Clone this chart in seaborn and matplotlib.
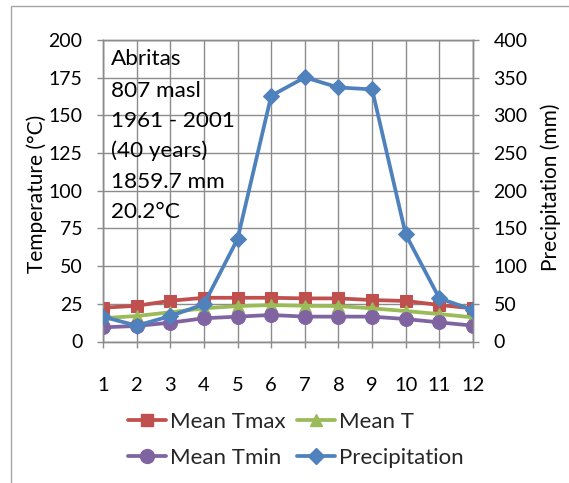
import matplotlib
matplotlib.use("Agg")
import matplotlib.pyplot as plt
from matplotlib.patches import Rectangle
from matplotlib.lines import Line2D
import seaborn as sns
import pandas as pd

# Monthly climate normals, Abritas (807 masl), 1961-2001
months = [1, 2, 3, 4, 5, 6, 7, 8, 9, 10, 11, 12]
mean_tmax = [22.4, 23.7, 27.0, 29.0, 29.0, 29.0, 28.6, 28.6, 27.5, 26.9, 24.2, 22.0]
mean_t = [15.5, 16.9, 19.4, 22.0, 23.5, 24.2, 23.7, 23.5, 22.0, 20.2, 18.2, 16.0]
mean_tmin = [9.4, 10.3, 12.5, 15.4, 16.5, 17.6, 16.5, 16.5, 16.5, 14.9, 12.7, 10.5]
precipitation = [32.9, 21.0, 33.8, 49.3, 136.0, 326.0, 350.4, 337.0, 334.5, 142.0, 57.3, 41.8]

station_lines = ["Abritas", "807 masl", "1961 - 2001", "(40 years)", "1859.7 mm", "20.2°C"]
temp_ticks = [0, 25, 50, 75, 100, 125, 150, 175, 200]
precip_ticks = [0, 50, 100, 150, 200, 250, 300, 350, 400]

sns.set_theme(style="white")
plt.rcParams["font.family"] = ["Lato", "DejaVu Sans"]

W, H = 569, 483
fig = plt.figure(figsize=(W / 100, H / 100), dpi=100)
fig.patch.set_facecolor("white")

# outer chart frame
fig.patches.append(Rectangle((11 / W, -0.2), 1.5, 1.2 - 6 / H, transform=fig.transFigure,
                             fill=False, edgecolor="#a6a6a6", linewidth=1.0))

left, right_px, top_px, bottom_px = 103, 473, 40, 341.5
ax = fig.add_axes([left / W, 1 - bottom_px / H, (right_px - left) / W, (bottom_px - top_px) / H])
ax2 = ax.twinx()

grid_c = "#8c8c8c"
df = pd.DataFrame({"month": months, "tmax": mean_tmax, "t": mean_t,
                   "tmin": mean_tmin, "precip": precipitation})

c_tmax, c_t, c_tmin, c_p = "#C0504D", "#9BBB59", "#8064A2", "#4F81BD"
lw = 2.7
sns.lineplot(data=df, x="month", y="tmax", ax=ax, color=c_tmax, linewidth=lw,
             marker="s", markersize=9, markeredgecolor=c_tmax, zorder=3)
sns.lineplot(data=df, x="month", y="t", ax=ax, color=c_t, linewidth=lw,
             marker="^", markersize=9, markeredgecolor=c_t, zorder=3)
sns.lineplot(data=df, x="month", y="tmin", ax=ax, color=c_tmin, linewidth=lw,
             marker="o", markersize=10, markeredgecolor=c_tmin, zorder=3)
sns.lineplot(data=df, x="month", y="precip", ax=ax2, color=c_p, linewidth=lw,
             marker="D", markersize=8.5, markeredgecolor=c_p, zorder=3)

ax.set_xlim(1, 12)
ax.set_ylim(0, 200)
ax2.set_ylim(0, 400)
ax.set_xticks(months)
ax.set_yticks(temp_ticks)
ax2.set_yticks(precip_ticks)
ax.grid(True, color=grid_c, linewidth=1.0)
ax.set_axisbelow(True)
for a in (ax, ax2):
    for s in a.spines.values():
        s.set_color(grid_c)
        s.set_linewidth(1.0)

tick_fs = 14
ax.tick_params(axis="y", which="major", direction="out", length=4.3, width=1.0,
               color=grid_c, pad=10.5, labelsize=tick_fs, labelcolor="black", left=True)
ax.tick_params(axis="x", which="major", direction="out", length=4.3, width=1.0,
               color=grid_c, pad=21, labelsize=14.5, labelcolor="black", bottom=True)
ax2.tick_params(axis="y", which="major", direction="out", length=4.3, width=1.0,
                color=grid_c, pad=10.5, labelsize=tick_fs, labelcolor="black", right=True)
ax.set_xlabel("")
ax.set_ylabel("Temperature (°C)", fontsize=15, color="black")
ax2.set_ylabel("Precipitation (mm)", fontsize=15, color="black")
ax.yaxis.set_label_coords(-0.152, 0.49)
ax2.yaxis.set_label_coords(1.182, 0.51)

# station summary block
baselines = [65, 96.7, 126.7, 157, 187.5, 218]
for txt, b in zip(station_lines, baselines):
    fig.text(111 / W, 1 - b / H, txt, fontsize=16.2, color="black", va="baseline", ha="left")

handles = [
    Line2D([], [], color=c_tmax, lw=lw, marker="s", markersize=9, markeredgecolor=c_tmax),
    Line2D([], [], color=c_tmin, lw=lw, marker="o", markersize=10, markeredgecolor=c_tmin),
    Line2D([], [], color=c_t, lw=lw, marker="^", markersize=9, markeredgecolor=c_t),
    Line2D([], [], color=c_p, lw=lw, marker="D", markersize=8.5, markeredgecolor=c_p),
]
labels = ["Mean Tmax", "Mean Tmin", "Mean T", "Precipitation"]
fig.legend(handles, labels, ncol=2, loc="center", bbox_to_anchor=(296 / W, 1 - 440 / H),
           frameon=False, fontsize=16, handlelength=1.7, handletextpad=0.2,
           columnspacing=0.5, labelspacing=0.72)

fig.savefig("out.png", dpi=100)
